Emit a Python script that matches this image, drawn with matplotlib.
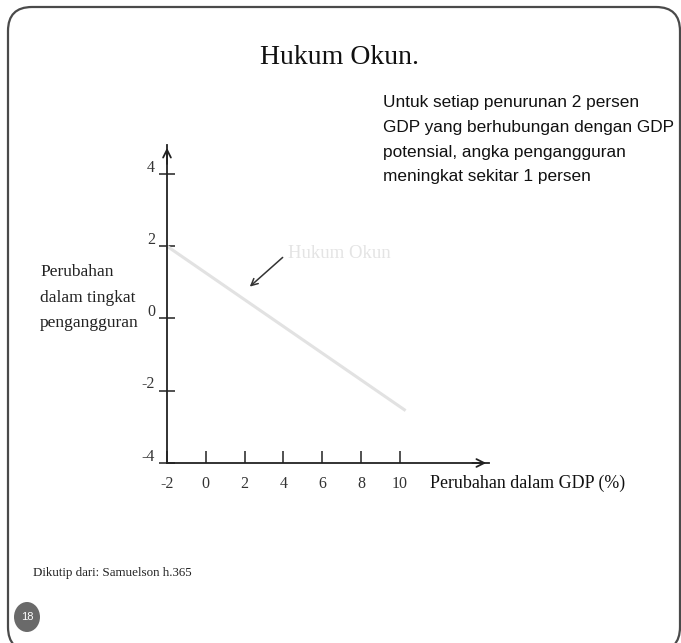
import matplotlib
matplotlib.use("Agg")
import matplotlib.pyplot as plt
from matplotlib.patches import FancyBboxPatch, Ellipse
from matplotlib.transforms import IdentityTransform, ScaledTranslation

# ---- data ----
x_ticks = [-2, 0, 2, 4, 6, 8, 10]
y_ticks = [-4, -2, 0, 2, 4]
okun_x = [-2, 10.3]
okun_y = [2, -2.55]
title = "Hukum Okun."
note_lines = ["Untuk setiap penurunan 2 persen",
              "GDP yang berhubungan dengan GDP",
              "potensial, angka pengangguran",
              "meningkat sekitar 1 persen"]
ylabel_lines = ["Perubahan", "dalam tingkat", "pengangguran"]
xlabel = "Perubahan dalam GDP (%)"
line_label = "Hukum Okun"
source = "Dikutip dari: Samuelson h.365"
page = "18"

W, H = 681, 643
fig = plt.figure(figsize=(W / 100, H / 100), dpi=100)
fig.patch.set_facecolor("white")

def fx(px):
    return px / W

def fy(py):
    return 1 - py / H

SERIF = ["Liberation Serif", "DejaVu Serif"]
SANS = ["Liberation Sans", "DejaVu Sans"]

# frame
frame = FancyBboxPatch((8, -8), 672, H - 7 + 8, boxstyle="round,pad=0,rounding_size=24",
                       transform=IdentityTransform(), facecolor="none",
                       edgecolor="#4a4a4a", linewidth=1.6)
fig.patches.append(frame)

# page circle
circ = Ellipse((27, H - 617), 26, 30, transform=IdentityTransform(), facecolor="#6a6a6a",
               edgecolor="none")
fig.patches.append(circ)
fig.text(fx(27), fy(617), page, color="white", fontsize=8, ha="center", va="center",
         family=SANS)

# axes
left_px, right_px = 167, 489
top_px, bot_px = 145, 463
ax = fig.add_axes([fx(left_px), fy(bot_px), (right_px - left_px) / W, (bot_px - top_px) / H])
ax.set_xlim(-2, 14.6)
ax.set_ylim(-4, 4.8)
ax.patch.set_alpha(0)
for s in ["top", "right"]:
    ax.spines[s].set_visible(False)
for s in ["left", "bottom"]:
    ax.spines[s].set_color("#222222")
    ax.spines[s].set_linewidth(1.3)

ax.set_xticks(x_ticks)
ax.set_yticks(y_ticks)
ax.set_xticklabels([str(v) for v in x_ticks])
ax.set_yticklabels([str(v) for v in y_ticks])
ax.tick_params(axis="x", direction="in", length=9, width=1.1, color="#222222",
               pad=9, labelsize=11.5, labelcolor="#333333")
ax.tick_params(axis="y", direction="inout", length=11, width=1.1, color="#222222",
               pad=3, labelsize=11.5, labelcolor="#333333")
for lab in ax.get_xticklabels() + ax.get_yticklabels():
    lab.set_family(SERIF)
up = ScaledTranslation(0, 6 / 72, fig.dpi_scale_trans)
for lab in ax.get_yticklabels():
    lab.set_transform(lab.get_transform() + up)

# axis arrowheads
ax.annotate("", xy=(14.6, -4), xytext=(13.6, -4),
            arrowprops=dict(arrowstyle="->", color="#222222", lw=1.3,
                            mutation_scale=14), annotation_clip=False)
ax.annotate("", xy=(-2, 4.8), xytext=(-2, 4.2),
            arrowprops=dict(arrowstyle="->", color="#222222", lw=1.3,
                            mutation_scale=14), annotation_clip=False)

# Okun line
ax.plot(okun_x, okun_y, color="#e2e2e2", lw=2.2, solid_capstyle="butt", clip_on=False)

# line label + arrow
ax.annotate("", xy=(2.16, 0.83), xytext=(4.07, 1.74),
            arrowprops=dict(arrowstyle="->", color="#333333", lw=1.1, mutation_scale=12))
fig.text(fx(288), fy(253), line_label, color="#e4e4e4", fontsize=13.5, ha="left",
         va="center", family=SERIF)

# texts
fig.text(fx(340), fy(58), title, fontsize=20, ha="center", va="center", family=SERIF,
         color="#111111")
for i, ln in enumerate(note_lines):
    fig.text(fx(383), fy(103 + 24.5 * i), ln, fontsize=12.4, ha="left", va="center",
             family=SANS, color="#111111")
for i, ln in enumerate(ylabel_lines):
    fig.text(fx(40), fy(272 + 25.5 * i), ln, fontsize=12.5, ha="left", va="center",
             family=SERIF, color="#222222")
fig.text(fx(430), fy(483), xlabel, fontsize=12.9, ha="left", va="center", family=SERIF,
         color="#111111")
fig.text(fx(33), fy(573), source, fontsize=9.4, ha="left", va="center", family=SERIF,
         color="#222222")

fig.savefig("out.png", dpi=100, facecolor="white")
